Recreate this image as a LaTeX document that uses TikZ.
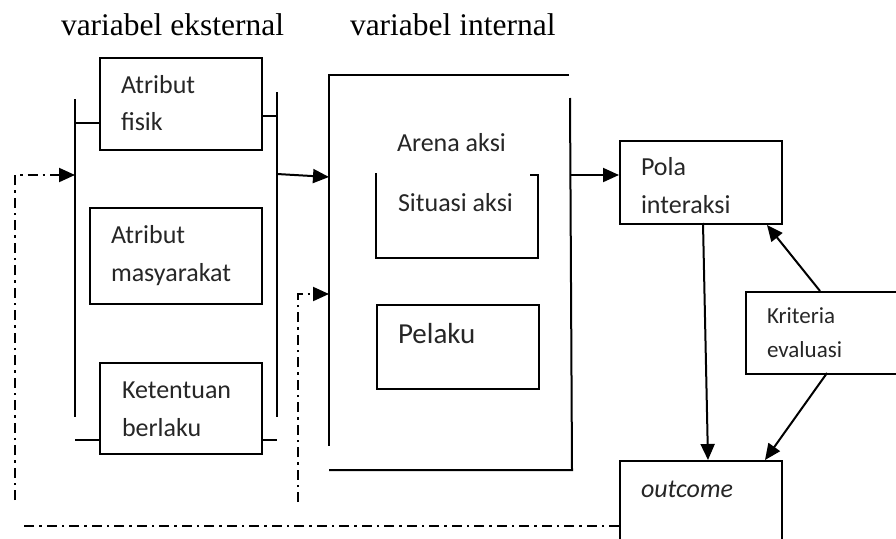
\documentclass[tikz,border=0pt]{standalone}
\usepackage{fontspec}
\setmainfont{Carlito}
\newfontfamily\titlefont{Liberation Serif}
\usetikzlibrary{arrows.meta}

\begin{document}
\begin{tikzpicture}[x=1pt, y=-1pt, line width=2pt,
  box/.style={draw, rectangle, inner sep=0pt, anchor=north west},
  lbl/.style={anchor=base west, inner sep=0pt, text=black!85, font=\fontsize{26}{31}\selectfont},
  ttl/.style={anchor=base west, inner sep=0pt, font=\titlefont\fontsize{31.5}{36}\selectfont},
  arr/.style={-{Triangle[length=16pt,width=14pt]}},
  dashdot/.style={dash pattern=on 10pt off 5pt on 2.5pt off 5pt}]
\useasboundingbox (0,0) rectangle (896,538);

% column headings
\node[ttl] (hext) at (60,35) {variabel eksternal};
\node[ttl] (hint) at (349,35) {variabel internal};

% external variables: three boxes inside a bracket
\node[box, minimum width=162pt, minimum height=92pt] (fisik) at (99,57) {};
\node[lbl] (fisikA) at (120,93) {Atribut};
\node[lbl] (fisikB) at (120,130) {fisik};

\node[box, minimum width=172pt, minimum height=96pt] (masy) at (89,207) {};
\node[lbl] (masyA) at (110,243) {Atribut};
\node[lbl] (masyB) at (110,281) {masyarakat};

\node[box, minimum width=162pt, minimum height=91pt] (atur) at (99,362) {};
\node[lbl] (aturA) at (121,398) {Ketentuan};
\node[lbl] (aturB) at (121,436) {berlaku};

\coordinate (bl1) at (75,99);
\coordinate (bl2) at (75,417);
\coordinate (br1) at (277,92);
\coordinate (br2) at (277,417);
\draw (bl1) -- (bl2);
\draw (br1) -- (br2);
% connecting ticks
\draw (75,123) -- (fisik.west |- 0,123);
\draw (fisik.east |- 0,116) -- (277,116);
\draw (75,440) -- (atur.west |- 0,440);
\draw (atur.east |- 0,440) -- (277,440);

% internal variables: action arena
\coordinate (a1) at (569,75);
\coordinate (a2) at (329,75);
\coordinate (a3) at (329,446);
\coordinate (a4) at (570,98);
\coordinate (a5) at (572,470);
\coordinate (a6) at (329,470);
\draw (a1) -- (a2) -- (a3);
\draw (a4) -- (a5) -- (a6);
\node[lbl] (arena) at (396,151) {Arena aksi};

% action situation (open at the top)
\coordinate (s1) at (376,173);
\coordinate (s2) at (376,258);
\coordinate (s3) at (538,258);
\coordinate (s4) at (538,175);
\coordinate (s5) at (530,175);
\draw (s1) -- (s2) -- (s3) -- (s4) -- (s5);
\node[lbl] (situasi) at (397,211) {Situasi aksi};

\node[box, minimum width=162pt, minimum height=84pt] (pelakubox) at (376,304) {};
\node[lbl, font=\fontsize{29}{34}\selectfont] (pelaku) at (397,343) {Pelaku};

% results
\node[box, minimum width=162pt, minimum height=83pt] (pola) at (619,140) {};
\node[lbl] (polaA) at (640,175) {Pola};
\node[lbl] (polaB) at (640,213) {interaksi};

\node[box, minimum width=162pt, minimum height=100pt] (outcome) at (619,460) {};
\node[lbl, font=\itshape\fontsize{26}{31}\selectfont] (outc) at (640,497) {outcome};

\node[box, minimum width=160pt, minimum height=82pt] (krit) at (745,291) {};
\node[lbl, font=\fontsize{23}{28}\selectfont] (kritA) at (766,323) {Kriteria};
\node[lbl, font=\fontsize{23}{28}\selectfont] (kritB) at (766,357) {evaluasi};

% flows
\coordinate (extout) at (277,174);
\coordinate (arin1) at (329,177);
\draw[arr] (extout) -- (arin1);

\coordinate (arout) at (570,175);
\draw[arr] (arout) -- (arout -| pola.west);

\coordinate (polaout) at (703,223);
\coordinate (outin1) at (708,460);
\draw[arr] (polaout) -- (outin1);

\coordinate (kritup) at (820,291);
\coordinate (polain) at (767,225);
\draw[arr] (kritup) -- (polain);

\coordinate (kritdn) at (827,373);
\coordinate (outin2) at (765,460);
\draw[arr] (kritdn) -- (outin2);

% feedback (dash-dotted)
\coordinate (fb1) at (outcome.west |- 0,526);
\coordinate (fb2) at (22,526);
\draw[dashdot] (fb1) -- (fb2);
\coordinate (fb3) at (15,500);
\coordinate (fb4) at (15,175);
\coordinate (extin) at (75,175);
\draw[dashdot, arr] (fb3) -- (fb4) -- (extin);

\coordinate (fb5) at (298,502);
\coordinate (fb6) at (298,294);
\coordinate (arin2) at (329,294);
\draw[dashdot, arr] (fb5) -- (fb6) -- (arin2);
\end{tikzpicture}
\end{document}
